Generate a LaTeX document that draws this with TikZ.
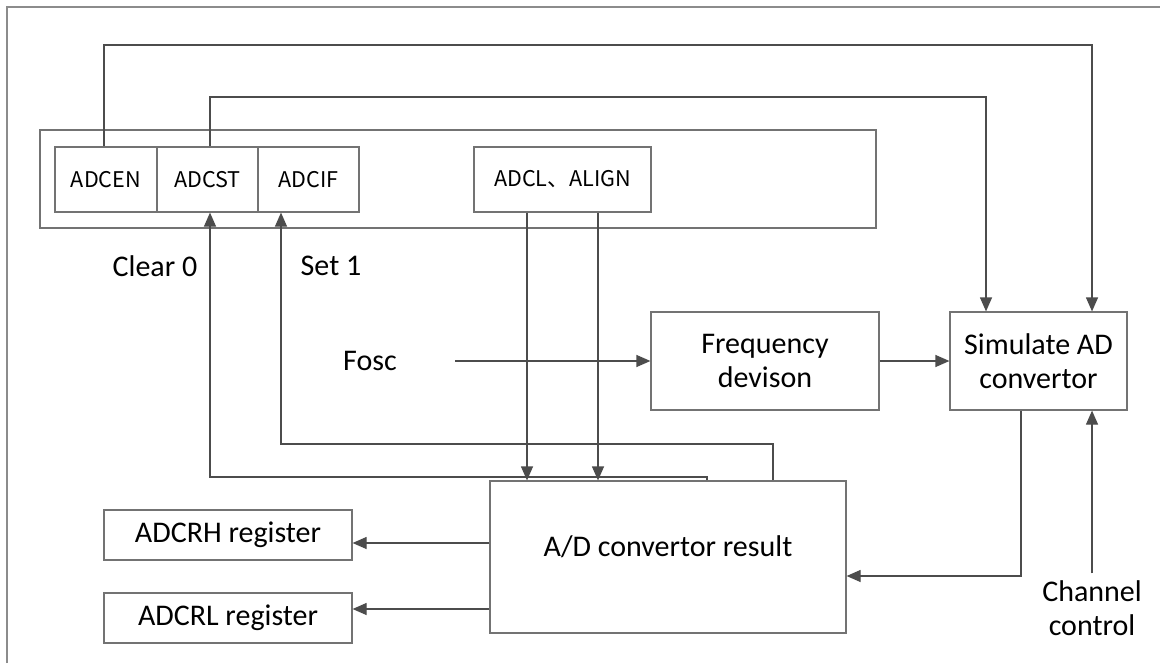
\documentclass[tikz,border=0pt]{standalone}
\usepackage{fontspec}
\setmainfont{Carlito}
\newfontfamily\cjk{Noto Sans CJK SC}
\usetikzlibrary{arrows.meta,calc}
\begin{document}
\begin{tikzpicture}[x=0.5pt,y=-0.5pt,
  box/.style={draw=black!55, line width=0.6pt, inner sep=0pt, align=center},
  big/.style={font=\fontsize{15}{17}\selectfont},
  small/.style={font=\cjk\fontsize{10.8}{12}\selectfont},
  conn/.style={draw=black!70, line width=0.6pt},
  arr/.style={conn, -{Triangle[length=7pt,width=6pt]}},
]
\useasboundingbox (0,0) rectangle (1160,663);
\draw[black!45, line width=1pt] (7,663) -- (7,7) -- (1160,7);

% register group
\node[box, minimum width=418pt, minimum height=49pt] (reg) at (458,179) {};
\node[box, small, minimum width=51pt, minimum height=32.5pt] (adcen) at (106,179.5) {ADCEN};
\node[box, small, minimum width=50.5pt, minimum height=32.5pt] (adcst) at (207.5,179.5) {ADCST};
\node[box, small, minimum width=50.5pt, minimum height=32.5pt] (adcif) at (308.5,179.5) {ADCIF};
\node[box, small, minimum width=88.5pt, minimum height=32.5pt] (adcl) at (562.5,179.5) {ADCL、ALIGN};

% blocks
\node[box, big, minimum width=114pt, minimum height=49pt] (freq) at (765,361) {Frequency\\devison};
\node[box, big, minimum width=88.5pt, minimum height=49pt] (sim) at (1038.5,361) {Simulate AD\\convertor};
\node[box, minimum width=178pt, minimum height=76pt, label={[big, yshift=5pt]center:A/D convertor result}] (ad) at (668,557) {};
\node[box, big, minimum width=124pt, minimum height=25pt] (adcrh) at (228,535) {ADCRH register};
\node[box, big, minimum width=124pt, minimum height=25pt] (adcrl) at (228,618) {ADCRL register};

% texts
\node[big] (clear) at (155,266) {Clear 0};
\node[big] (set) at (331,266) {Set 1};
\node[big] (fosc) at (370,361) {Fosc};
\node[big, align=center] (chan) at (1092,608) {Channel\\control};

% connectors
\coordinate (fo) at (455,361);
\draw[arr] (fo) -- (freq.west);
\draw[arr] (freq.east) -- (sim.west);

\coordinate (t1) at (1092,45);
\draw[arr] (adcen.north -| 104,0) |- (t1) -- (t1 |- sim.north);
\coordinate (t2) at (986,97);
\draw[arr] (adcst.north -| 210,0) |- (t2) -- (t2 |- sim.north);

\draw[arr] (adcl.south -| 527,0) -- (ad.north -| 527,0);
\draw[arr] (adcl.south -| 598,0) -- (ad.north -| 598,0);

\draw[arr] (sim.south -| 1021,0) |- (ad.east |- 0,576);
\draw[arr] (chan.north) -- (sim.south -| chan.north);

\draw[arr] (ad.west |- 0,543) -- (adcrh.east |- 0,543);
\draw[arr] (ad.west |- 0,609) -- (adcrl.east |- 0,609);

\coordinate (c0) at (210,477);
\draw[arr] (ad.north -| 707,0) |- (c0) -- (c0 |- adcst.south);
\coordinate (s0) at (281,444);
\draw[arr] (ad.north -| 773,0) |- (s0) -- (s0 |- adcif.south);
\end{tikzpicture}
\end{document}
